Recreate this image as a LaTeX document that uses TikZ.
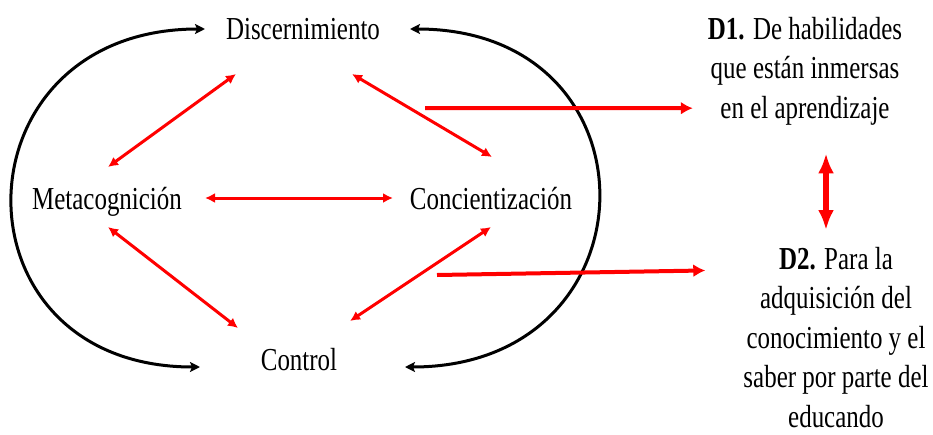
\documentclass[tikz,border=0pt]{standalone}
\usepackage{fontspec}
\setmainfont{Liberation Serif}[FakeStretch=0.78]
\usetikzlibrary{arrows.meta}
\usetikzlibrary{calc}

\begin{document}
\begin{tikzpicture}[x=1pt, y=-1pt,
          term/.style={inner sep=0pt, font=\fontsize{32}{39.5}\selectfont},
          redarrow/.style={<->, >={Latex[length=10pt,width=10pt]}, color=red, line width=3pt},
          bigarrow/.style={->, >={Latex[length=12pt,width=13pt]}, color=red, line width=4pt},
          vertarrow/.style={<->, >={Latex[length=20pt,width=16pt]}, color=red, line width=6pt},
          outerarc/.style={<->, >={Stealth[length=10pt,width=10pt,inset=2pt]}, color=black, line width=3pt}]
          \useasboundingbox (0,0) rectangle (933,434);

          \node [term, anchor=base] (disc) at (303,39) {Discernimiento};
          \node [term, anchor=base] (meta) at (107,209) {Metacognición};
          \node [term, anchor=base] (conc) at (491,209) {Concientización};
          \node [term, anchor=base] (ctrl) at (299,370) {Control};

          \node [term, align=center, anchor=north] (d1) at (805,17)
          {\textbf{D1.} De habilidades\\que están inmersas\\en el aprendizaje};
          \node [term, align=center, anchor=north] (d2) at (836,247)
          {\textbf{D2.} Para la\\adquisición del\\conocimiento y el\\saber por parte del\\educando};

          \draw [outerarc] ($(disc.base)+(-98,-10)$) .. controls +(-253,0) and +(-253,0) .. ($(ctrl.base)+(-99,-3)$);
          \draw [outerarc] ($(disc.base)+(107,-10)$) .. controls +(254,0) and +(254,0) .. ($(ctrl.base)+(106,-3)$);

          \draw [redarrow] ($(disc.base)+(-67,35)$) -- ($(meta.base)+(1,-42)$);
          \draw [redarrow] ($(disc.base)+(49,35)$) -- ($(conc.base)+(1,-52)$);
          \draw [redarrow] ($(meta.base)+(98,-11)$) -- ($(conc.base)+(-98,-11)$);
          \draw [redarrow] ($(meta.base)+(1,18)$) -- ($(ctrl.base)+(-61,-42)$);
          \draw [redarrow] ($(conc.base)+(0,18)$) -- ($(ctrl.base)+(51,-49)$);

          \coordinate (d1from) at (425,108);
          \coordinate (d2from) at (437,275);
          \draw [bigarrow] (d1from) -- ([shift={(-15,37)}]d1.west);
          \draw [bigarrow] (d2from) -- ([shift={(-38,-67)}]d2.west);
          \draw [vertarrow] ([shift={(21,28)}]d1.south) -- ([shift={(-10,-17)}]d2.north);
        \end{tikzpicture}
\end{document}
